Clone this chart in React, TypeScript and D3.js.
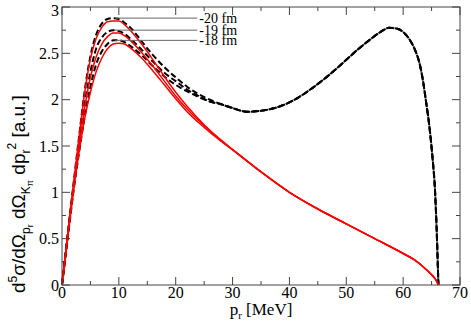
import React from 'react';
import * as d3 from 'd3';

// p_r grid (MeV) for the solid (red) curves
const redX = [0, 1, 2, 3, 4, 5, 6, 7, 8, 9, 10, 11, 12, 14, 16, 18, 20, 22, 25, 28];
const redTailX = [30, 35, 40, 45, 50, 55, 60, 62, 64, 65, 65.7, 66.2];
const redTail = [1.46, 1.22, 1.0, 0.82, 0.66, 0.5, 0.34, 0.27, 0.17, 0.11, 0.06, 0];
const red20 = [0, 0.55, 1.08, 1.6, 2.08, 2.44, 2.66, 2.78, 2.84, 2.85, 2.85, 2.81, 2.75, 2.6, 2.43, 2.25, 2.08, 1.93, 1.73, 1.56];
const red19 = [0, 0.53, 1.04, 1.5, 1.92, 2.24, 2.46, 2.6, 2.68, 2.72, 2.72, 2.69, 2.64, 2.51, 2.36, 2.2, 2.04, 1.9, 1.72, 1.56];
const red18 = [0, 0.5, 1.0, 1.43, 1.8, 2.08, 2.3, 2.45, 2.55, 2.6, 2.61, 2.6, 2.56, 2.45, 2.31, 2.16, 2.01, 1.87, 1.7, 1.55];

// dashed (black) curves
const dashX = [0, 1, 2, 3, 4, 5, 6, 7, 8, 9, 10, 11, 12, 14, 16, 18, 20, 22, 24, 26, 28];
const dashTailX = [30, 32.5, 36, 40, 42, 45, 48, 50, 52, 54, 56, 57.5, 59, 60, 61, 62, 63, 63.5, 64, 64.6, 65.3, 65.5, 66, 66.2];
const dashTail = [1.91, 1.87, 1.89, 1.97, 2.04, 2.17, 2.32, 2.43, 2.54, 2.64, 2.73, 2.775, 2.765, 2.73, 2.66, 2.55, 2.36, 2.2, 1.99, 1.72, 1.28, 1.13, 0.41, 0];
const dash20 = [0, 0.55, 1.08, 1.6, 2.1, 2.47, 2.7, 2.82, 2.87, 2.88, 2.87, 2.83, 2.78, 2.63, 2.48, 2.35, 2.24, 2.14, 2.06, 2.0, 1.95];
const dash19 = [0, 0.53, 1.04, 1.5, 1.95, 2.3, 2.55, 2.67, 2.73, 2.75, 2.74, 2.71, 2.66, 2.54, 2.41, 2.29, 2.2, 2.11, 2.04, 1.98, 1.95];
const dash18 = [0, 0.5, 1.0, 1.43, 1.82, 2.14, 2.38, 2.52, 2.6, 2.64, 2.64, 2.62, 2.58, 2.48, 2.36, 2.25, 2.16, 2.09, 2.03, 1.98, 1.95];

const labels = ['-20 fm', '-19 fm', '-18 fm'];
const labelPeaks = [2.88, 2.75, 2.64];
const xTicks = [0, 10, 20, 30, 40, 50, 60, 70];
const yTicks = [0, 0.5, 1, 1.5, 2, 2.5, 3];

const W = 471;
const H = 327;
const m = { left: 62, right: 11, top: 7, bottom: 42 };
const serif = "'Liberation Serif', 'Times New Roman', Times, serif";
const sans = "'Liberation Sans', Arial, Helvetica, sans-serif";

const zip = (xs: number[], ys: number[]) => xs.map((x, i) => [x, ys[i]] as [number, number]);

export default function App() {
  const x = d3.scaleLinear().domain([0, 70]).range([m.left, W - m.right]);
  const y = d3.scaleLinear().domain([0, 3]).range([H - m.bottom, m.top]);
  const line = d3.line<[number, number]>()
    .x(d => x(d[0]))
    .y(d => y(d[1]))
    .curve(d3.curveMonotoneX);

  const reds = [red20, red19, red18].map(s => zip(redX.concat(redTailX), s.concat(redTail)));
  const dashes = [dash20, dash19, dash18].map(s => zip(dashX.concat(dashTailX), s.concat(dashTail)));

  const x0 = x(0), x1 = x(70), y0 = y(0), y1 = y(3);
  const xMinor = d3.range(0, 70.1, 5);
  const yMinor = d3.range(0, 3.01, 0.25);
  const frame = '#444';
  const serifStyle = { fontFamily: serif };

  return (
    <svg width={W} height={H} style={{ position: 'absolute', left: 0, top: 0, background: '#fff' }}>
      {/* ticks on all four sides, pointing inward */}
      <g stroke={frame} strokeWidth={1}>
        {xMinor.map(t => {
          const len = t % 10 === 0 ? 8 : 4;
          return (
            <g key={'xt' + t}>
              <line x1={x(t)} x2={x(t)} y1={y0} y2={y0 - len} />
              <line x1={x(t)} x2={x(t)} y1={y1} y2={y1 + len} />
            </g>
          );
        })}
        {yMinor.map(t => {
          const len = Math.abs(t * 2 - Math.round(t * 2)) < 1e-6 ? 8 : 4;
          return (
            <g key={'yt' + t}>
              <line x1={x0} x2={x0 + len} y1={y(t)} y2={y(t)} />
              <line x1={x1} x2={x1 - len} y1={y(t)} y2={y(t)} />
            </g>
          );
        })}
      </g>

      {/* dashed curves under the solid ones */}
      {dashes.map((d, i) => (
        <path key={'d' + i} d={line(d) || ''} fill="none" stroke="#000" strokeWidth={2} strokeDasharray="6,3" />
      ))}
      {reds.map((d, i) => (
        <path key={'r' + i} d={line(d) || ''} fill="none" stroke="#ff0000" strokeWidth={1.5} />
      ))}

      <rect x={x0} y={y1} width={x1 - x0} height={y0 - y1} fill="none" stroke={frame} strokeWidth={1} />

      {/* curve labels */}
      {labels.map((l, i) => (
        <g key={l}>
          <line x1={x(9.3)} x2={x(23.8)} y1={y(labelPeaks[i])} y2={y(labelPeaks[i])} stroke="#666" strokeWidth={1} />
          <text x={x(23.8) + 2} y={y(labelPeaks[i]) + 4.5} style={serifStyle} fontSize={14}>{l}</text>
        </g>
      ))}

      {/* tick labels */}
      {xTicks.map(t => (
        <text key={'xl' + t} x={x(t)} y={y0 + 13} textAnchor="middle" style={serifStyle} fontSize={16}>{t}</text>
      ))}
      {yTicks.map(t => (
        <text key={'yl' + t} x={x0 - 3} y={Math.max(y(t) + 5.5, 16)} textAnchor="end" style={serifStyle} fontSize={16}>{t}</text>
      ))}

      {/* axis titles */}
      <text x={(x0 + x1) / 2} y={315} textAnchor="middle" style={serifStyle} fontSize={17}>
        p<tspan fontSize={11} dy={4}>r</tspan><tspan dy={-4}> [MeV]</tspan>
      </text>
      <text transform="rotate(-90)" x={-293} y={25} style={{ fontFamily: sans }} fontSize={19}>
        d<tspan fontSize={12} dy={-8}>5</tspan>
        <tspan dy={8}>σ/dΩ</tspan>
        <tspan fontSize={12} dy={5}>p</tspan>
        <tspan fontSize={9} dy={3}>r</tspan>
        <tspan dy={-8}> dΩ</tspan>
        <tspan fontSize={12} dy={5}>K</tspan>
        <tspan fontSize={9} dy={3}>π</tspan>
        <tspan dy={-8}> dp</tspan>
        <tspan fontSize={12} dy={5}>r</tspan>
        <tspan fontSize={12} dy={-14}>2</tspan>
        <tspan dy={9}> [a.u.]</tspan>
      </text>
    </svg>
  );
}
